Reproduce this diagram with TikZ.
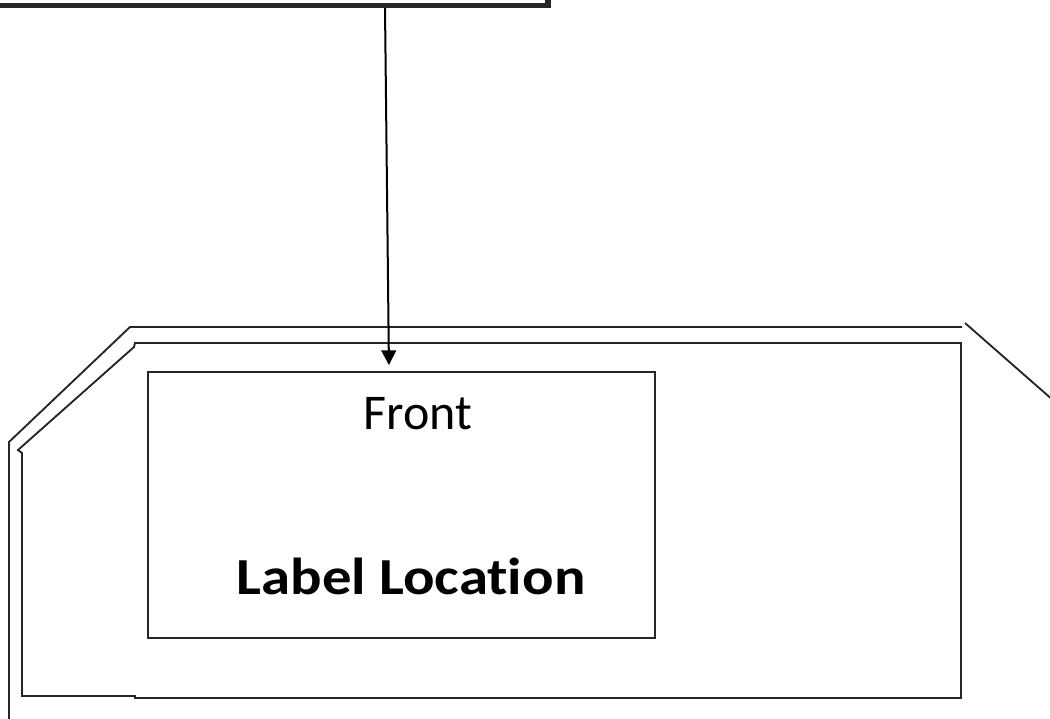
\documentclass[tikz,border=0pt]{standalone}
\usepackage{fontspec}
\setmainfont[Ligatures=NoCommon]{Carlito}
\usetikzlibrary{
  arrows.meta,
  calc,
  positioning
}
\tikzset{
  outline/.style={line width=1.4pt, draw=black!85, line join=miter},
  topbar/.style={draw=black!85, line width=3.8pt, minimum width=427.5pt, minimum height=48.75pt, inner sep=0pt},
  frontbox/.style={draw=black!85, line width=1.4pt, minimum width=380.25pt, minimum height=199.5pt, inner sep=0pt},
  pointer/.style={-{Triangle[length=11pt, width=11pt]}, line width=1.5pt},
  note/.style={font=\fontsize{37.5}{40}\selectfont, anchor=base, inner sep=0pt},
  bignote/.style={font=\fontsize{39}{44}\selectfont\bfseries, anchor=base, inner sep=0pt, xscale=1.13},
}

\begin{document}
\begin{tikzpicture}[x=0.75pt, y=-0.75pt]
\useasboundingbox (0,0) rectangle (1050,718);

% --- box cut off at the top ---
\node[topbar] (topbox) at (263,-27) {};

% --- case outline, outer and inner wall ---
\draw[outline] (962,327) -- (130,327) -- (9,442) -- (9,740);
\draw[outline] (965,323) -- (1062,408);
\draw[outline] (135,343) -- (961,343) -- (961,698) -- (135,698) -- (135,696)
  -- (22,696) -- (22,453) -- (18,450) -- (134,347) -- cycle;

% --- label area ---
\node[frontbox] (front) at (401.5,505) {};
\node[note] (fronttext) at (418,429) {Front};
\node[bignote] (labeltext) at (411,594) {Label Location};

% --- pointer from the top box ---
\coordinate (drop) at (385,5);
\coordinate (land) at (389,366);
\draw[pointer] (topbox.south -| drop) -- (front.north -| land) [shorten >=4.5pt];

\end{tikzpicture}
\end{document}
